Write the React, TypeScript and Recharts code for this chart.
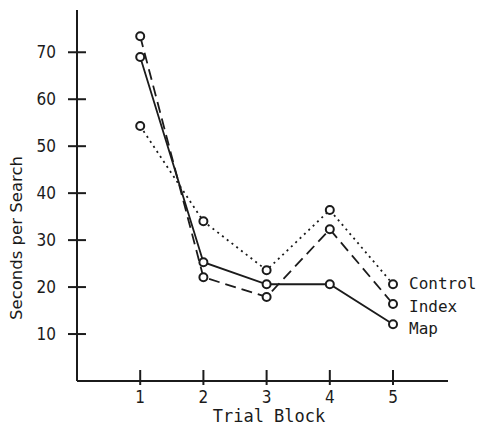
import React from 'react'
import { LineChart, Line, XAxis, YAxis, ReferenceLine } from 'recharts'

// trial blocks and mean seconds per search
const blocks = [1, 2, 3, 4, 5]
const mapSeconds = [69, 25.3, 20.6, 20.6, 12.1]
const indexSeconds = [73.4, 22.1, 17.9, 32.3, 16.4]
const controlSeconds = [54.3, 34, 23.6, 36.4, 20.6]
const yTicks = [10, 20, 30, 40, 50, 60, 70]

const data = blocks.map((b, i) => ({
    block: b,
    map: mapSeconds[i],
    index: indexSeconds[i],
    control: controlSeconds[i],
}))

const INK = '#1b1b1b'
const SANS = 'DejaVu Sans, sans-serif'
const COND = 'DejaVu Sans Condensed, DejaVu Sans, sans-serif'
const MONO = 'DejaVu Sans Mono, Liberation Mono, monospace'

// inner half of the crossing tick marks, in axis units
const Y_TICK_IN = 0.142
const X_TICK_IN = 2.34

const YTick = (p: any) => (
    <text x={p.x - 12} y={p.y} dy={6} textAnchor="end" fontFamily={COND} fontSize={17} fill={INK}>
        {p.payload.value}
    </text>
)

const XTick = (p: any) => (
    <text x={p.x} y={p.y} dy={18} textAnchor="middle" fontFamily={COND} fontSize={17} fill={INK}>
        {p.payload.value}
    </text>
)

const dot = { r: 4, stroke: INK, strokeWidth: 2, fill: '#fff', strokeDasharray: 'none' }

const endLabel = (name: string, dy: number) => (props: any) => {
    if (props.index !== blocks.length - 1) return null
    return (
        <text key={name} x={props.x + 16} y={props.y} dy={dy} fontFamily={MONO} fontSize={16} fill={INK}>
            {name}
        </text>
    )
}

export default function App() {
    return (
        <div style={{ position: 'absolute', left: 0, top: 0, width: 477, height: 427, background: '#fff' }}>
            <LineChart width={477} height={427} data={data} margin={{ top: 10, right: 29, bottom: 6, left: 17 }}>
                <XAxis
                    dataKey="block"
                    type="number"
                    domain={[0, 5.87]}
                    ticks={blocks}
                    tick={(p: any) => <XTick {...p} />}
                    tickSize={4}
                    tickMargin={0}
                    height={40}
                    axisLine={{ stroke: INK, strokeWidth: 2 }}
                    tickLine={{ stroke: INK, strokeWidth: 2 }}
                />
                <YAxis
                    type="number"
                    domain={[0, 79]}
                    ticks={yTicks}
                    tick={(p: any) => <YTick {...p} />}
                    tickSize={9}
                    tickMargin={0}
                    width={60}
                    axisLine={{ stroke: INK, strokeWidth: 2 }}
                    tickLine={{ stroke: INK, strokeWidth: 2 }}
                />
                {yTicks.map((v) => (
                    <ReferenceLine key={'y' + v} segment={[{ x: 0, y: v }, { x: Y_TICK_IN, y: v }]} stroke={INK} strokeWidth={2} ifOverflow="visible" />
                ))}
                {blocks.map((b) => (
                    <ReferenceLine key={'x' + b} segment={[{ x: b, y: 0 }, { x: b, y: X_TICK_IN }]} stroke={INK} strokeWidth={2} ifOverflow="visible" />
                ))}
                <Line dataKey="control" stroke={INK} strokeWidth={1.8} strokeDasharray="2 4" dot={dot} isAnimationActive={false} label={endLabel('Control', 5)} />
                <Line dataKey="index" stroke={INK} strokeWidth={1.8} strokeDasharray="11 6" dot={dot} isAnimationActive={false} label={endLabel('Index', 8)} />
                <Line dataKey="map" stroke={INK} strokeWidth={1.8} dot={dot} isAnimationActive={false} label={endLabel('Map', 10)} />
            </LineChart>
            {/* axis titles */}
            <svg width={477} height={427} style={{ position: 'absolute', left: 0, top: 0, pointerEvents: 'none' }}>
                <text x={269} y={422} textAnchor="middle" fontFamily={MONO} fontSize={17} fill={INK}>
                    Trial Block
                </text>
                <text transform="translate(22, 238) rotate(-90)" textAnchor="middle" fontFamily={SANS} fontSize={16.5} fill={INK}>
                    Seconds per Search
                </text>
            </svg>
        </div>
    )
}
